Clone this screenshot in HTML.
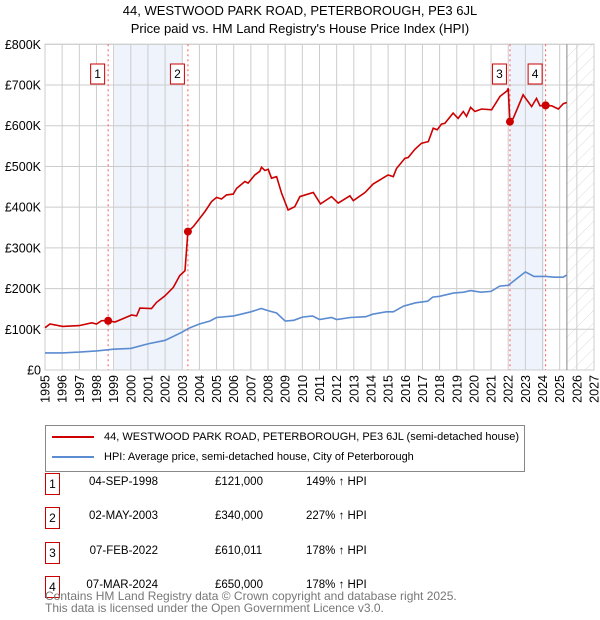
<!DOCTYPE html>
<html><head><meta charset="utf-8"><style>
body{margin:0;background:#fff;font-family:"Liberation Sans","DejaVu Sans",sans-serif;}
#wrap{position:relative;width:600px;height:620px;overflow:hidden}
.t{position:absolute;font-size:12px;color:#000;white-space:nowrap}
.box{position:absolute;border:1px solid #c00;width:16px;height:20px;text-align:center;line-height:20px;font-size:12px}
</style></head><body><div id="wrap">
<svg id="c" width="600" height="420" style="position:absolute;left:0;top:0"></svg>
<div style="position:absolute;left:45px;top:425px;width:478px;height:45px;border:1px solid #888">
 <div style="position:absolute;left:6px;top:5px;font-size:11px;white-space:nowrap"><span style="display:inline-block;width:42px;height:2px;background:#c00;vertical-align:middle;margin-right:10px"></span>44, WESTWOOD PARK ROAD, PETERBOROUGH, PE3 6JL (semi-detached house)</div>
 <div style="position:absolute;left:6px;top:25px;font-size:11px;white-space:nowrap"><span style="display:inline-block;width:42px;height:2px;background:#5b8bd0;vertical-align:middle;margin-right:10px"></span>HPI: Average price, semi-detached house, City of Peterborough</div>
</div>
<div id="tbl"></div>
<div class="t" style="left:45px;top:590px;color:#777;font-size:12px;line-height:12px">Contains HM Land Registry data © Crown copyright and database right 2025.<br>This data is licensed under the Open Government Licence v3.0.</div>
</div>
<script>
const redYears=[1995.0,1995.29,1996.03,1997.0,1997.72,1998.01,1998.3,1998.68,1999.08,1999.66,2000.05,2000.34,2000.53,2001.21,2001.5,2001.99,2002.48,2002.86,2003.16,2003.33,2003.64,2004.03,2004.32,2004.71,2005.0,2005.29,2005.58,2005.97,2006.17,2006.65,2006.84,2007.23,2007.52,2007.62,2007.82,2008.01,2008.2,2008.5,2008.79,2009.17,2009.56,2009.86,2010.64,2011.06,2011.7,2012.09,2012.77,2012.97,2013.65,2014.13,2015.0,2015.3,2015.49,2015.98,2016.17,2016.56,2016.95,2017.34,2017.63,2017.86,2018.11,2018.31,2018.79,2019.08,2019.38,2019.57,2019.81,2020.06,2020.45,2021.03,2021.52,2021.94,2022.0,2022.1,2022.29,2022.58,2022.87,2023.36,2023.65,2023.85,2024.18,2024.53,2024.92,2025.21,2025.41];
const redVals=[104,113,107,109,116,113,121,121,118,128,135,133,152,151,166,182,203,232,244,340,352,373,389,414,424,420,430,432,446,463,459,479,488,498,490,493,471,475,434,393,401,426,436,408,426,410,428,416,436,457,479,475,495,520,522,542,557,561,594,590,604,606,631,618,635,623,645,635,641,639,672,686,692,610,618,647,676,647,667,649,650,649,641,654,657];
const hpiYears=[1995,1996,1997,1998,1999,2000,2001,2002,2003,2003.4,2004,2004.6,2005,2006,2007,2007.6,2008,2008.5,2009,2009.5,2010,2010.6,2011,2011.7,2012,2012.8,2013.7,2014.1,2014.9,2015.3,2015.9,2016.6,2017.3,2017.6,2018,2018.8,2019.4,2019.8,2020.4,2021,2021.5,2022,2022.6,2023,2023.5,2024.2,2024.7,2025.2,2025.4];
const hpiVals=[42,42,44,47,51,53,64,73,93,103,113,120,129,133,143,151,146,140,120,122,130,133,124,129,124,129,131,137,143,143,157,165,169,179,181,189,191,195,191,193,206,208,228,241,230,230,228,228,233];
const saleLabels=["1","2","3","4"];
const saleYears=[1998.68,2003.33,2022.1,2024.18];
const saleVals=[121,340,610.011,650];
const saleDates=["04-SEP-1998","02-MAY-2003","07-FEB-2022","07-MAR-2024"];
const salePrices=["£121,000","£340,000","£610,011","£650,000"];
const saleHpi=["149% ↑ HPI","227% ↑ HPI","178% ↑ HPI","178% ↑ HPI"];
const yTicks=[0,100,200,300,400,500,600,700,800];
const yTickLabels=["£0","£100K","£200K","£300K","£400K","£500K","£600K","£700K","£800K"];
const xTicks=[];for(let y=1995;y<=2027;y++)xTicks.push(y);

const L=45,R=594,T=44.3,B=370,X0=1995,X1=2027;
const xs=v=>L+(v-X0)/(X1-X0)*(R-L);
const ys=v=>B-v/800*(B-T);
const NS="http://www.w3.org/2000/svg";
const svg=document.getElementById('c');
function mk(tag,attrs,parent){const e=document.createElementNS(NS,tag);for(const k in attrs)e.setAttribute(k,attrs[k]);(parent||svg).appendChild(e);return e;}
const defs=mk('defs',{});
const pat=mk('pattern',{id:'h',width:9,height:9,patternUnits:'userSpaceOnUse',patternTransform:'rotate(45)'},defs);
mk('line',{x1:0,y1:0,x2:0,y2:9,stroke:'#d4d4d4','stroke-width':0.8},pat);
let s1=mk('rect',{x:xs(1999.05),y:T,width:xs(2003.0)-xs(1999.05),height:B-T,fill:'#eef3fc'});


let s2=mk('rect',{x:xs(2022.1),y:T,width:xs(2024.1)-xs(2022.1),height:B-T,fill:'#eef3fc'});


let hz=mk('rect',{x:xs(2025.42),y:T,width:R-xs(2025.42),height:B-T,fill:'url(#h)'});


xTicks.forEach(v=>{mk('line',{x1:xs(v),x2:xs(v),y1:T,y2:B,stroke:'#ccc','stroke-width':1});
 const t=mk('text',{x:0,y:0,transform:`translate(${xs(v)+4.5},${B+5}) rotate(-90)`,'text-anchor':'end','font-size':12.5,fill:'#000'});t.textContent=v;
 
 });
yTicks.forEach((v,i)=>{mk('line',{x1:L,x2:R,y1:ys(v),y2:ys(v),stroke:'#ccc','stroke-width':1});
 const t=mk('text',{x:41,y:ys(v)+4.5,'text-anchor':'end','font-size':12.5,fill:'#000'});t.textContent=yTickLabels[i];
 
 });
mk('rect',{x:L,y:T,width:R-L,height:B-T,fill:'none',stroke:'#ccc'});
mk('line',{x1:xs(2025.42),x2:xs(2025.42),y1:T,y2:B,stroke:'#888'});
saleYears.forEach(v=>{const l=mk('line',{x1:xs(v),x2:xs(v),y1:T,y2:B,stroke:'#f55','stroke-dasharray':'2,3','stroke-width':1});
 
 });
const pts=(xa,va)=>xa.map((x,i)=>xs(x).toFixed(1)+','+ys(va[i]).toFixed(1)).join(' ');
const hl=mk('polyline',{points:pts(hpiYears,hpiVals),fill:'none',stroke:'#5b8bd0','stroke-width':1.6});


const rl=mk('polyline',{points:pts(redYears,redVals),fill:'none',stroke:'#c00','stroke-width':1.6});


saleYears.forEach((v,i)=>{const c=mk('circle',{cx:xs(v),cy:ys(saleVals[i]),r:4,fill:'#c00'});
 
 
 const g=mk('g',{});
 
 
 mk('rect',{x:xs(v)-17.5,y:64,width:14,height:20,fill:'#fff',stroke:'#c00'},g);
 const t=mk('text',{x:xs(v)-10.5,y:78,'text-anchor':'middle','font-size':12},g);t.textContent=saleLabels[i];});
const t1=mk('text',{x:300,y:15,'text-anchor':'middle','font-size':13});t1.textContent="44, WESTWOOD PARK ROAD, PETERBOROUGH, PE3 6JL";


const t2=mk('text',{x:300,y:33,'text-anchor':'middle','font-size':13});t2.textContent="Price paid vs. HM Land Registry's House Price Index (HPI)";


const tbl=document.getElementById('tbl');
const rowY=[473,507,542,576];
saleLabels.forEach((lab,i)=>{
 const row=document.createElement('div');
 
 
 row.innerHTML=`<div class="box" style="left:45px;top:${rowY[i]}px;width:13px">${lab}</div>
 <div class="t" style="left:68px;width:90px;text-align:right;top:${rowY[i]+3}px;font-size:11.5px">${saleDates[i]}</div>
 <div class="t" style="left:215px;top:${rowY[i]+3}px;font-size:11.5px">${salePrices[i]}</div>
 <div class="t" style="left:306px;top:${rowY[i]+3}px;font-size:11.5px">${saleHpi[i]}</div>`;
 tbl.appendChild(row);});
</script></body></html>
